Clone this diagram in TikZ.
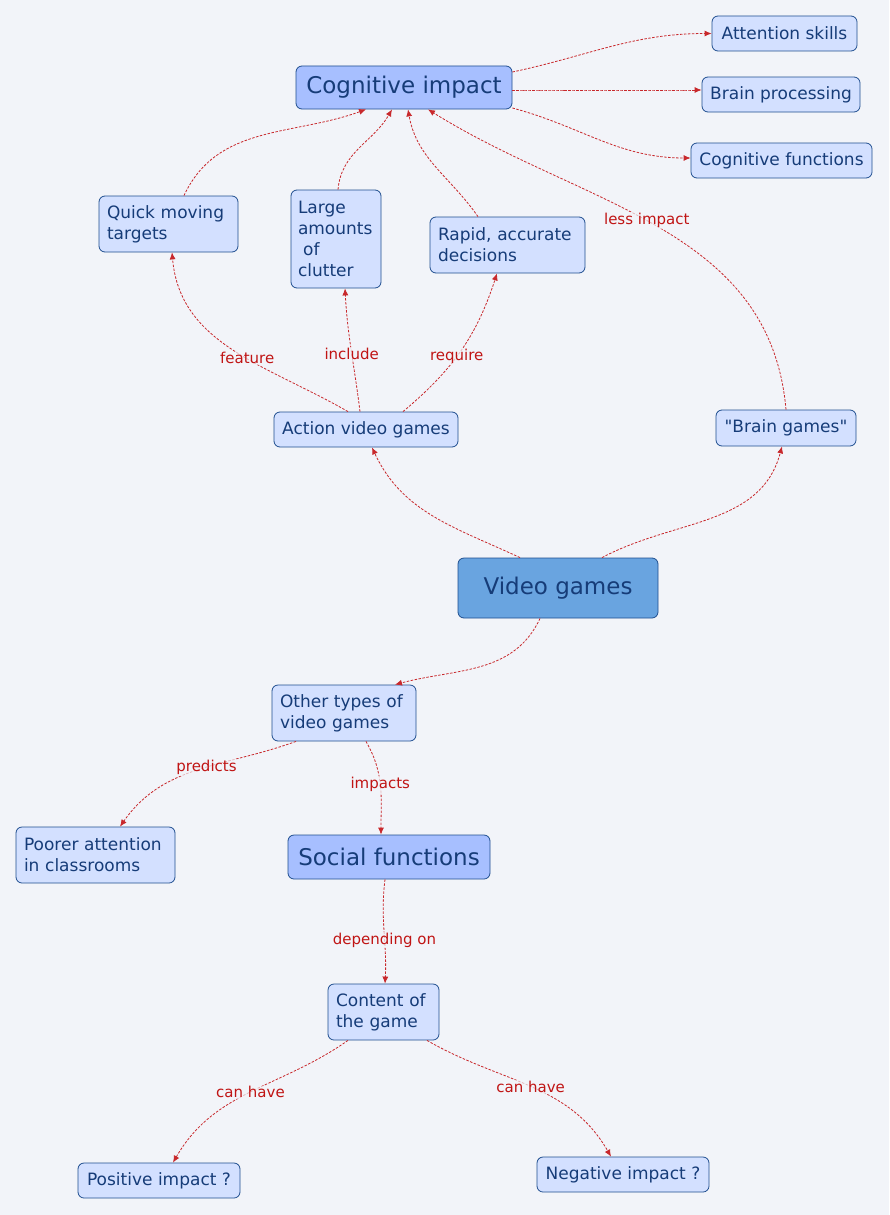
\documentclass[tikz,border=0pt]{standalone}
\usepackage{fontspec}
\setmainfont{DejaVu Sans}[Ligatures=TeXOff]
\usetikzlibrary{arrows.meta}
\definecolor{bgc}{HTML}{F2F4F9}
\definecolor{nfill}{HTML}{D3E0FF}
\definecolor{mfill}{HTML}{A7BFFF}
\definecolor{vfill}{HTML}{69A4E0}
\definecolor{nline}{HTML}{1F4E8F}
\definecolor{ntext}{HTML}{163C78}
\definecolor{ecol}{HTML}{C8282C}
\definecolor{lcol}{HTML}{C01414}
\tikzset{
  box/.style={draw=nline, line width=0.8pt, rounded corners=6pt, fill=nfill, text=ntext,
    font=\fontsize{17}{21}\selectfont, align=left, inner sep=0pt},
  bigbox/.style={box, fill=mfill, font=\fontsize{23}{27}\selectfont},
  link/.style={draw=ecol, line width=0.8pt, dash pattern=on 2.5pt off 1.5pt,
    -{Latex[length=7pt,width=6pt]}},
  lbl/.style={text=lcol, font=\fontsize{15}{17}\selectfont, fill=bgc, fill opacity=0.7, text opacity=1, inner sep=1pt}
}
\begin{document}
\begin{tikzpicture}[x=1pt,y=1pt]
\fill[bgc] (0,0) rectangle (889,-1215);
\useasboundingbox (0,0) rectangle (889,-1215);

\node[bigbox, minimum width=216, minimum height=43] (cog) at (404,-87.5) {Cognitive impact};
\node[box, minimum width=145, minimum height=35] (att) at (784.5,-33.5) {Attention skills};
\node[box, minimum width=158, minimum height=35] (bp) at (781,-94.5) {Brain processing};
\node[box, minimum width=181, minimum height=35] (cf) at (781.5,-160.5) {Cognitive functions};
\node[box, minimum width=139, minimum height=56, text width=123] (qmt) at (168.5,-224) {Quick moving\\targets};
\node[box, minimum width=90, minimum height=98, text width=76] (lac) at (336,-239) {Large\\amounts\\\hspace*{0.3em}of\\clutter};
\node[box, minimum width=155, minimum height=56, text width=139] (rad) at (507.5,-245) {Rapid, accurate\\decisions};
\node[box, minimum width=184, minimum height=35] (act) at (366,-429.5) {Action video games};
\node[box, minimum width=140, minimum height=36] (brg) at (786,-428) {"Brain games"};
\node[bigbox, fill=vfill, minimum width=200, minimum height=60] (vg) at (558,-588) {Video games};
\node[box, minimum width=144, minimum height=56, text width=128] (oth) at (344,-713) {Other types of\\video games};
\node[box, minimum width=159, minimum height=56, text width=143] (poor) at (95.5,-855) {Poorer attention\\in classrooms};
\node[bigbox, minimum width=202, minimum height=44] (soc) at (389,-857) {Social functions};
\node[box, minimum width=111, minimum height=56, text width=95] (cont) at (383.5,-1012) {Content of\\the game};
\node[box, minimum width=162, minimum height=35] (pos) at (159,-1180.5) {Positive impact ?};
\node[box, minimum width=172, minimum height=35] (neg) at (623,-1174.5) {Negative impact ?};

% from Video games
\draw[link] ([xshift=-38]vg.north) to[out=155,in=-65] ([xshift=6]act.south);
\draw[link] ([xshift=44]vg.north) to[out=28,in=-105] ([xshift=-4]brg.south);
\draw[link] ([xshift=-18]vg.south) to[out=-115,in=15] ([xshift=51]oth.north);

% from Action video games
\draw[link] ([xshift=-18]act.north) to[out=150,in=-85] node[lbl,pos=0.43]{feature} ([xshift=3.5]qmt.south);
\draw[link] ([xshift=-6]act.north) to[out=97,in=-87] node[lbl,pos=0.47]{include} ([xshift=9]lac.south);
\draw[link] ([xshift=37]act.north) to[out=40,in=-108] node[lbl,pos=0.45]{require} ([xshift=-10.5]rad.north |- rad.south);

% into Cognitive impact
\draw[link] ([xshift=15.5]qmt.north) to[out=65,in=-160] ([xshift=-38]cog.south);
\draw[link] ([xshift=2]lac.north) to[out=85,in=-120] ([xshift=-12]cog.south);
\draw[link] ([xshift=-29.5]rad.north) to[out=125,in=-80] ([xshift=4]cog.south);
\draw[link] (brg.north) to[out=95,in=-32] node[lbl,pos=0.53]{less impact} ([xshift=24]cog.south);

% from Cognitive impact
\draw[link] ([yshift=15.5]cog.east) to[out=12,in=180] (att.west);
\draw[link] ([yshift=-2.5]cog.east) to[out=0,in=180] ([yshift=4.5]bp.west);
\draw[link] ([yshift=-20.5]cog.east) to[out=-15,in=180] ([yshift=2.5]cf.west);

% lower part
\draw[link] ([xshift=-48]oth.south) to[out=-160,in=55] node[lbl,pos=0.45]{predicts} ([xshift=24.5]poor.north);
\draw[link] ([xshift=22]oth.south) to[out=-60,in=90] node[lbl,pos=0.48]{impacts} ([xshift=-8]soc.north);
\draw[link] ([xshift=-4]soc.south) to[out=-97,in=87] node[lbl,pos=0.59]{depending on} ([xshift=1.5]cont.north);
\draw[link] ([xshift=-35.5]cont.south) to[out=-145,in=60] node[lbl,pos=0.5]{can have} ([xshift=14]pos.north);
\draw[link] ([xshift=43.5]cont.south) to[out=-30,in=120] node[lbl,pos=0.5]{can have} ([xshift=-12]neg.north);
\end{tikzpicture}
\end{document}
